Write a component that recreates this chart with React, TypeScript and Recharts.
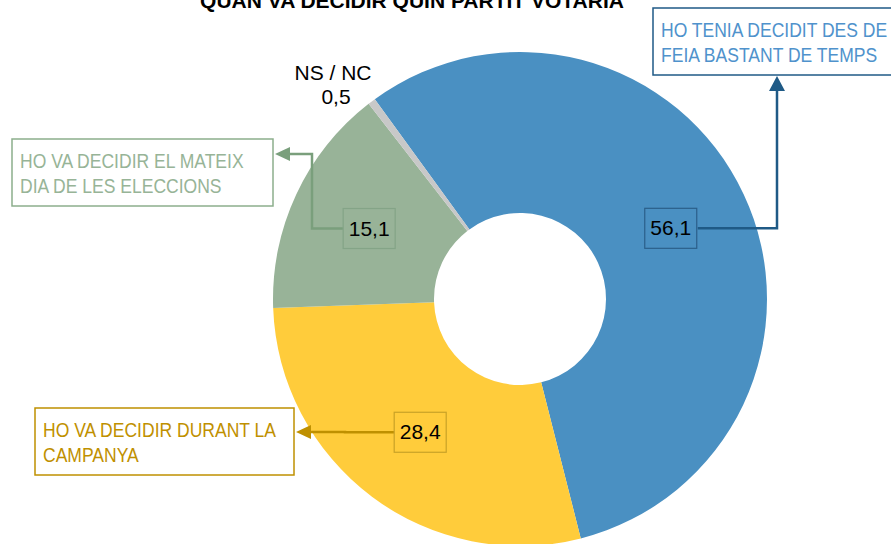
import { Cell, Customized, Pie, PieChart } from "recharts";

const categoryLines: string[][] = [
  ["HO TENIA DECIDIT DES DE", "FEIA BASTANT DE TEMPS"],
  ["HO VA DECIDIR DURANT LA", "CAMPANYA"],
  ["HO VA DECIDIR EL MATEIX", "DIA DE LES ELECCIONS"],
  ["NS / NC"],
];
const values = [56.1, 28.4, 15.1, 0.5];
const sliceColors = ["#4A90C2", "#FFCC3B", "#98B398", "#C8C8C8"];
const title = "QUAN VA DECIDIR QUIN PARTIT VOTARIA";

const data = values.map((v, i) => ({ name: categoryLines[i].join(" "), value: v }));

const RADIAN = Math.PI / 180;
const SANS = "'Liberation Sans', Arial, sans-serif";
// no narrow face installed, so squeeze the regular one like Arial Narrow
const NARROW_SCALE = 0.835;

// callout boxes (Excel style annotations), by slice index
const callouts: any[] = [
  { box: [653, 8, 250, 67], text: "#4F92CC", border: "#1F5A86", arrow: "#1F5A86", dir: "up", elbow: 777 },
  { box: [35, 408, 259, 67], text: "#BF9000", border: "#BF9000", arrow: "#BF9000", dir: "left", elbow: 345, arrowY: 432 },
  { box: [12, 139, 261, 67], text: "#97B497", border: "#8CAE8C", arrow: "#7A9F7C", dir: "left", elbow: 312, arrowY: 154 },
  null,
];
const valueBorders = ["#2B5F8A", "#C9A227", "#84A487", "#999"];

const fmt = (v: number) => v.toFixed(1).replace(".", ",");

function renderLabel(props: any) {
  const { cx, cy, midAngle, innerRadius, outerRadius, index, value } = props;
  const lines = categoryLines[index];
  if (!callouts[index]) {
    // small slice: name + value above the ring
    return (
      <g key={`lbl-${index}`}>
        <text x={333} y={80} textAnchor="middle" fontSize={21} fontFamily={SANS} fill="#000">
          {lines[0]}
        </text>
        <text x={336} y={104} textAnchor="middle" fontSize={21} fontFamily={SANS} fill="#000">
          {fmt(value)}
        </text>
      </g>
    );
  }
  const r = (innerRadius + outerRadius) / 2;
  const lx = cx + r * Math.cos(-midAngle * RADIAN);
  const ly = cy + r * Math.sin(-midAngle * RADIAN);
  const c = callouts[index];
  const [bx, by, bw, bh] = c.box;
  let path = "";
  let head = "";
  if (c.dir === "up") {
    const tip = by + bh + 1;
    path = `M${lx + 27},${ly} H${c.elbow} V${tip + 12}`;
    head = `${c.elbow},${tip} ${c.elbow - 8},${tip + 15} ${c.elbow + 8},${tip + 15}`;
  } else {
    const tip = bx + bw + 2;
    path = `M${lx - 26},${ly} H${c.elbow} V${c.arrowY} H${tip + 12}`;
    head = `${tip},${c.arrowY} ${tip + 15},${c.arrowY - 7} ${tip + 15},${c.arrowY + 7}`;
  }
  return (
    <g key={`lbl-${index}`}>
      <path d={path} fill="none" stroke={c.arrow} strokeWidth={2.5} />
      <polygon points={head} fill={c.arrow} />
      <rect x={bx} y={by} width={bw} height={bh} fill="#fff" stroke={c.border} strokeWidth={1.5} />
      {lines.map((t: string, k: number) => (
        <text
          key={k}
          transform={`translate(${bx + 8},${by + 29 + k * 25}) scale(${NARROW_SCALE},1)`}
          fontSize={21}
          fontFamily={SANS}
          fill={c.text}
        >
          {t}
        </text>
      ))}
      <rect x={lx - 26} y={ly - 20} width={52} height={40} fill="none" stroke={valueBorders[index]} strokeWidth={1.2} />
      <text x={lx} y={ly + 7} textAnchor="middle" fontSize={21} fontFamily={SANS} fill="#000">
        {fmt(value)}
      </text>
    </g>
  );
}

const Title = () => (
  <text x={412} y={8} textAnchor="middle" fontSize={21} fontWeight="bold" fontFamily={SANS} fill="#000">
    {title}
  </text>
);

export default function App() {
  return (
    <div style={{ position: "absolute", left: 0, top: 0, width: 891, height: 544, overflow: "hidden", background: "#fff" }}>
      <PieChart width={891} height={544} margin={{ top: 0, right: 0, bottom: 0, left: 0 }}>
        <Pie
          data={data}
          dataKey="value"
          nameKey="name"
          cx={520}
          cy={299}
          innerRadius={86}
          outerRadius={247}
          startAngle={126}
          endAngle={-234}
          stroke="none"
          label={renderLabel}
          labelLine={false}
          isAnimationActive={false}
        >
          {data.map((d, i) => (
            <Cell key={d.name} fill={sliceColors[i]} />
          ))}
        </Pie>
        <Customized component={Title} />
      </PieChart>
    </div>
  );
}
